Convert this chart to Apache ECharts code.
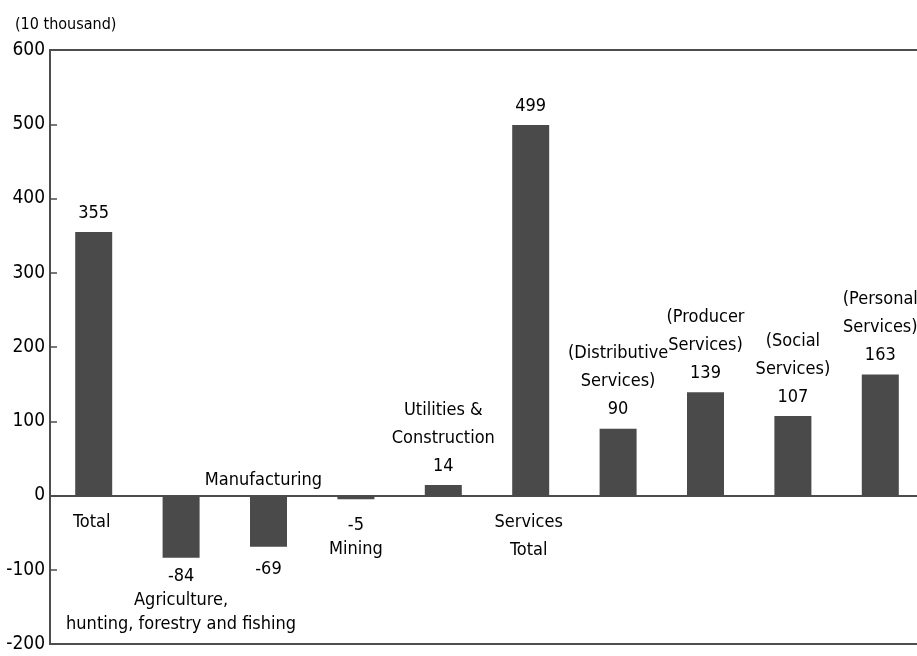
<!DOCTYPE html>
<html>
<head>
<meta charset="utf-8">
<script src="https://cdn.jsdelivr.net/npm/echarts@6/dist/echarts.min.js"></script>
<style>
  html, body { margin: 0; padding: 0; background: #fff; }
  #main { width: 917px; height: 656px; }
</style>
</head>
<body>
<div id="main"></div>
<script>
const categories = [
  'Total',
  'Agriculture,\nhunting, forestry and fishing',
  'Manufacturing',
  'Mining',
  'Utilities &\nConstruction',
  'Services\nTotal',
  '(Distributive\nServices)',
  '(Producer\nServices)',
  '(Social\nServices)',
  '(Personal\nServices)'
];
const values = [355, -84, -69, -5, 14, 499, 90, 139, 107, 163];
const yMin = -200;
const yMax = 600;
const yStep = 100;
const unitLabel = '(10 thousand)';

// categories whose name sits on the zero line instead of next to the value
const nameOnZero = [0, 2, 5];
// extra gap under the negative bars (label placement only)
const negGap = { 1: 6, 2: 11, 3: 14 };

const font = "'DejaVu Sans Condensed', 'Liberation Sans Narrow', sans-serif";
const lineCol = '#4d4d4d';

const chart = echarts.init(document.getElementById('main'));

const valueData = values.map((v, i) => {
  const onZero = nameOnZero.includes(i);
  let text;
  if (onZero) text = String(v);
  else if (v < 0) text = v + '\n' + categories[i];
  else text = categories[i] + '\n' + v;
  return {
    value: v,
    label: {
      position: v >= 0 ? 'top' : 'bottom',
      distance: v >= 0 ? 5 : (negGap[i] || 8),
      lineHeight: v >= 0 ? 28 : 24,
      formatter: text
    }
  };
});

const nameData = values.map((v, i) => {
  const show = nameOnZero.includes(i);
  return {
    value: v,
    label: {
      show: show,
      position: v >= 0 ? 'bottom' : 'top',
      distance: v >= 0 ? 13 : 1,
      offset: v >= 0 ? [-2, 0] : [-5, 0],
      formatter: categories[i]
    }
  };
});

chart.setOption({
  animation: false,
  backgroundColor: '#fff',
  title: {
    text: unitLabel,
    left: 10,
    top: 12,
    textStyle: { fontFamily: font, fontSize: 16, fontWeight: 'normal', color: '#000' }
  },
  grid: {
    left: 50,
    top: 50,
    bottom: 12,
    right: -7,
    outerBoundsMode: 'none',
    show: true,
    borderColor: lineCol,
    borderWidth: 2
  },
  xAxis: {
    type: 'category',
    data: categories,
    axisLine: { onZero: true, lineStyle: { color: lineCol, width: 2 } },
    axisTick: { show: false },
    axisLabel: { show: false },
    splitLine: { show: false }
  },
  yAxis: {
    type: 'value',
    min: yMin,
    max: yMax,
    interval: yStep,
    axisLine: { show: true, lineStyle: { color: lineCol, width: 2 } },
    axisTick: { show: true, inside: true, length: 7, lineStyle: { color: lineCol, width: 1.5 } },
    axisLabel: { fontFamily: font, fontSize: 19, color: '#000', margin: 5 },
    splitLine: { show: false }
  },
  series: [
    {
      type: 'bar',
      data: valueData,
      barWidth: 37,
      itemStyle: { color: '#4a4a4a' },
      label: {
        show: true,
        fontFamily: font,
        fontSize: 18,
        color: '#000'
      }
    },
    {
      type: 'bar',
      data: nameData,
      barWidth: 37,
      barGap: '-100%',
      silent: true,
      itemStyle: { color: 'rgba(0,0,0,0)' },
      label: {
        fontFamily: font,
        fontSize: 18,
        lineHeight: 28,
        color: '#000'
      }
    }
  ]
});
</script>
</body>
</html>
